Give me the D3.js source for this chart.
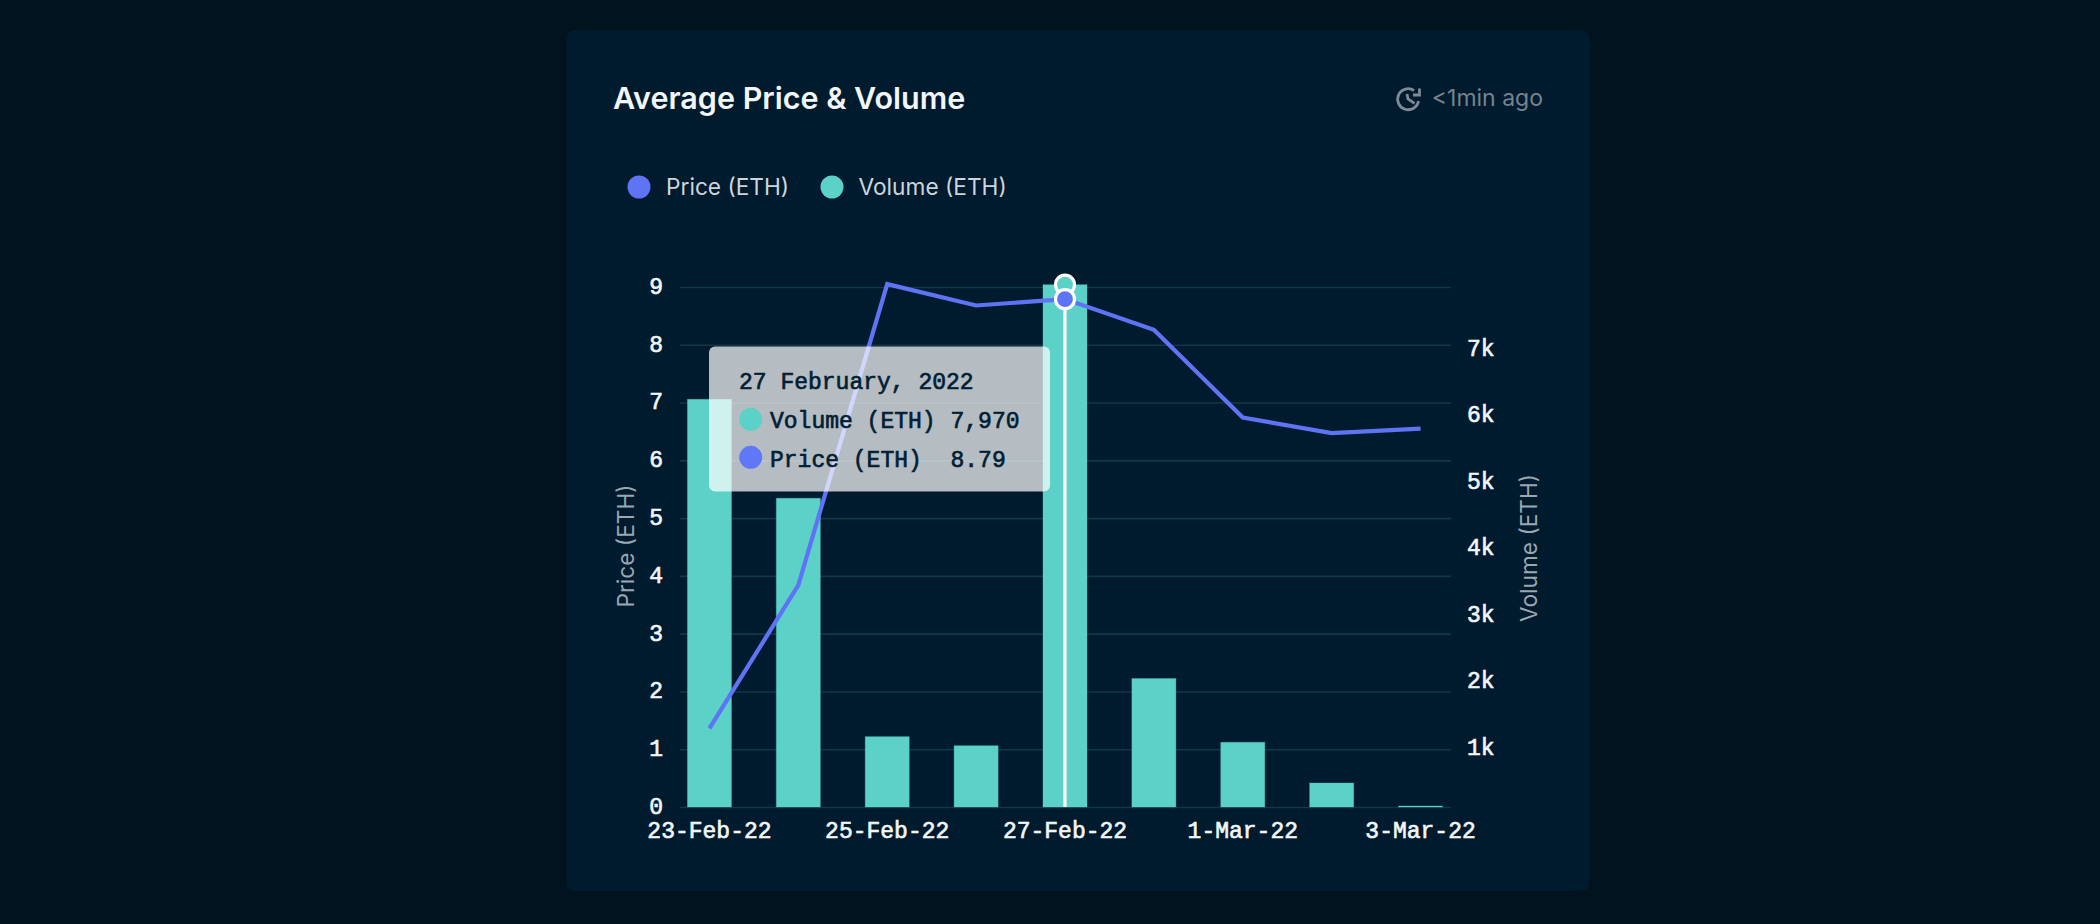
<!DOCTYPE html>
<html>
<head>
<meta charset="utf-8">
<script src="https://cdn.jsdelivr.net/npm/d3@7"></script>
<style>
  html, body { margin: 0; background: #01131e; }
  svg { display: block; }
  .mono { font-family: "Liberation Mono", monospace; font-size: 23px; font-weight: 400; stroke-width: 0.65px; }
  .sans { font-family: Inter, sans-serif; }
</style>
</head>
<body>
<svg id="chart"></svg>
<script>
const dates = ['23-Feb-22', '24-Feb-22', '25-Feb-22', '26-Feb-22', '27-Feb-22', '28-Feb-22', '1-Mar-22', '2-Mar-22', '3-Mar-22']
const volume = [6221, 4711, 1073, 935, 7970, 1960, 987, 366, 15]
const price = [1.36, 3.84, 9.05, 8.68, 8.79, 8.26, 6.74, 6.47, 6.55]
const priceTicks = [0, 1, 2, 3, 4, 5, 6, 7, 8, 9]
const volumeTicks = [1000, 2000, 3000, 4000, 5000, 6000, 7000]
const dateTicks = ['23-Feb-22', '25-Feb-22', '27-Feb-22', '1-Mar-22', '3-Mar-22']
const hovered = 4

const width = 2100
const height = 924
const teal = '#5bd1c8'
const blue = '#5f74f5'
const ink = '#022033'

const svg = d3.select('#chart').attr('width', width).attr('height', height)

// card
svg.append('rect')
  .attr('x', 566.5).attr('y', 30).attr('width', 1023).attr('height', 861).attr('rx', 8)
  .attr('fill', '#001a2e')

// scales
const x = d3.scaleBand().domain(dates).range([665, 1465]).paddingInner(0.505).paddingOuter(0.2525)
const yPrice = d3.scaleLinear().domain([0, 9]).range([807, 287])
const yVolume = d3.scaleLinear().domain([0, 7970]).range([807, 284.7])
// the right hand labels do not sit on the gridlines in the original
const yVolumeLabels = d3.scaleLinear().domain([1000, 7000]).range([747, 348])
const cx = d => x(d) + x.bandwidth() / 2

// title
svg.append('text').attr('class', 'sans')
  .attr('x', 613).attr('y', 109)
  .attr('fill', '#f2f6f8').attr('font-size', 30.5).attr('font-weight', 600)
  .text('Average Price & Volume')

svg.append('text').attr('class', 'sans')
  .attr('x', 1543).attr('y', 106).attr('text-anchor', 'end')
  .attr('fill', '#74848f').attr('font-size', 23)
  .text('<1min ago')

// refresh clock icon
const clock = svg.append('g')
  .attr('transform', 'translate(1408,99)')
  .attr('fill', 'none').attr('stroke', '#7c8b96').attr('stroke-width', 2.8)
clock.append('path').attr('d', 'M6,-8.5 A10.5,10.5 0 1 0 10.5,2')
clock.append('path').attr('d', 'M11.5,-10.5 V-4 H5')
clock.append('path').attr('d', 'M-1,-5 L0,0 L6.5,4.3')

// legend
const legend = [
  { name: 'Price (ETH)', color: blue, cx: 639, tx: 666 },
  { name: 'Volume (ETH)', color: teal, cx: 832, tx: 858.5 }
]
legend.forEach(l => {
  svg.append('circle').attr('cx', l.cx).attr('cy', 187).attr('r', 11.5).attr('fill', l.color)
  svg.append('text').attr('class', 'sans')
    .attr('x', l.tx).attr('y', 194.5)
    .attr('fill', '#cdd5da').attr('font-size', 22.7)
    .text(l.name)
})

// left axis + gridlines
const gLeft = svg.append('g')
  .attr('transform', 'translate(680,0)')
  .call(d3.axisLeft(yPrice).tickValues(priceTicks).tickSize(-771).tickPadding(17))
gLeft.select('.domain').remove()
gLeft.selectAll('.tick line').attr('stroke', '#123746').attr('stroke-width', 1.6)
gLeft.selectAll('.tick text').attr('y', -1)

// bars
svg.append('g').selectAll('rect')
  .data(dates)
  .enter().append('rect')
  .attr('x', d => x(d))
  .attr('y', (d, i) => yVolume(volume[i]))
  .attr('width', x.bandwidth())
  .attr('height', (d, i) => yVolume(0) - yVolume(volume[i]))
  .attr('fill', teal)
  .attr('stroke', teal)
  .attr('stroke-opacity', 0.35)

// price line
const line = d3.line()
  .x((d, i) => cx(dates[i]))
  .y(d => yPrice(d))
svg.append('path')
  .datum(price)
  .attr('d', line)
  .attr('fill', 'none')
  .attr('stroke', blue)
  .attr('stroke-width', 4.2)

// right axis
const gRight = svg.append('g')
  .attr('transform', 'translate(1451,0)')
  .call(d3.axisRight(yVolumeLabels).tickValues(volumeTicks).tickSize(0).tickPadding(16).tickFormat(d => d / 1000 + 'k'))
gRight.select('.domain').remove()

// bottom axis
const gBottom = svg.append('g')
  .attr('transform', 'translate(0,807)')
  .call(d3.axisBottom(x).tickValues(dateTicks).tickSize(0).tickPadding(15))
gBottom.select('.domain').remove()

svg.selectAll('.tick text')
  .attr('class', 'mono')
  .attr('fill', '#f2f6f8')
  .attr('stroke', '#f2f6f8')

// axis titles
svg.append('text').attr('class', 'sans')
  .attr('transform', 'translate(634,546) rotate(-90)')
  .attr('text-anchor', 'middle')
  .attr('fill', '#9aa7b0').attr('font-size', 22.7)
  .text('Price (ETH)')

svg.append('text').attr('class', 'sans')
  .attr('transform', 'translate(1537,548) rotate(-90)')
  .attr('text-anchor', 'middle')
  .attr('fill', '#9aa7b0').attr('font-size', 22.7)
  .text('Volume (ETH)')

// hover marker
const hx = cx(dates[hovered])
svg.append('line')
  .attr('x1', hx).attr('x2', hx)
  .attr('y1', yVolume(0)).attr('y2', yPrice(price[hovered]))
  .attr('stroke', '#fff').attr('stroke-width', 3.2)
svg.append('circle')
  .attr('cx', hx).attr('cy', yVolume(volume[hovered])).attr('r', 9.5)
  .attr('fill', teal).attr('stroke', '#fff').attr('stroke-width', 3.2)
svg.append('circle')
  .attr('cx', hx).attr('cy', yPrice(price[hovered])).attr('r', 9.5)
  .attr('fill', blue).attr('stroke', '#fff').attr('stroke-width', 3.2)

// tooltip
const tip = svg.append('g')
tip.append('rect')
  .attr('x', 709).attr('y', 346.5).attr('width', 341).attr('height', 145).attr('rx', 6)
  .attr('fill', '#fff').attr('fill-opacity', 0.71)

const tipText = (tx, ty, str) => tip.append('text').attr('class', 'mono')
  .attr('x', tx).attr('y', ty)
  .attr('fill', ink).attr('stroke', ink)
  .text(str)

const fullDate = d3.timeFormat('%-d %B, %Y')(d3.timeParse('%d-%b-%y')(dates[hovered]))
tipText(739, 389, fullDate)

tip.append('circle').attr('cx', 750.7).attr('cy', 419.3).attr('r', 11.5).attr('fill', teal)
tipText(770, 428, 'Volume (ETH)')
tipText(950.5, 428, d3.format(',')(volume[hovered]))

tip.append('circle').attr('cx', 750.7).attr('cy', 457.3).attr('r', 11.5).attr('fill', '#6078f8')
tipText(770, 466.5, 'Price (ETH)')
tipText(950.5, 466.5, d3.format('.2f')(price[hovered]))
</script>
</body>
</html>
